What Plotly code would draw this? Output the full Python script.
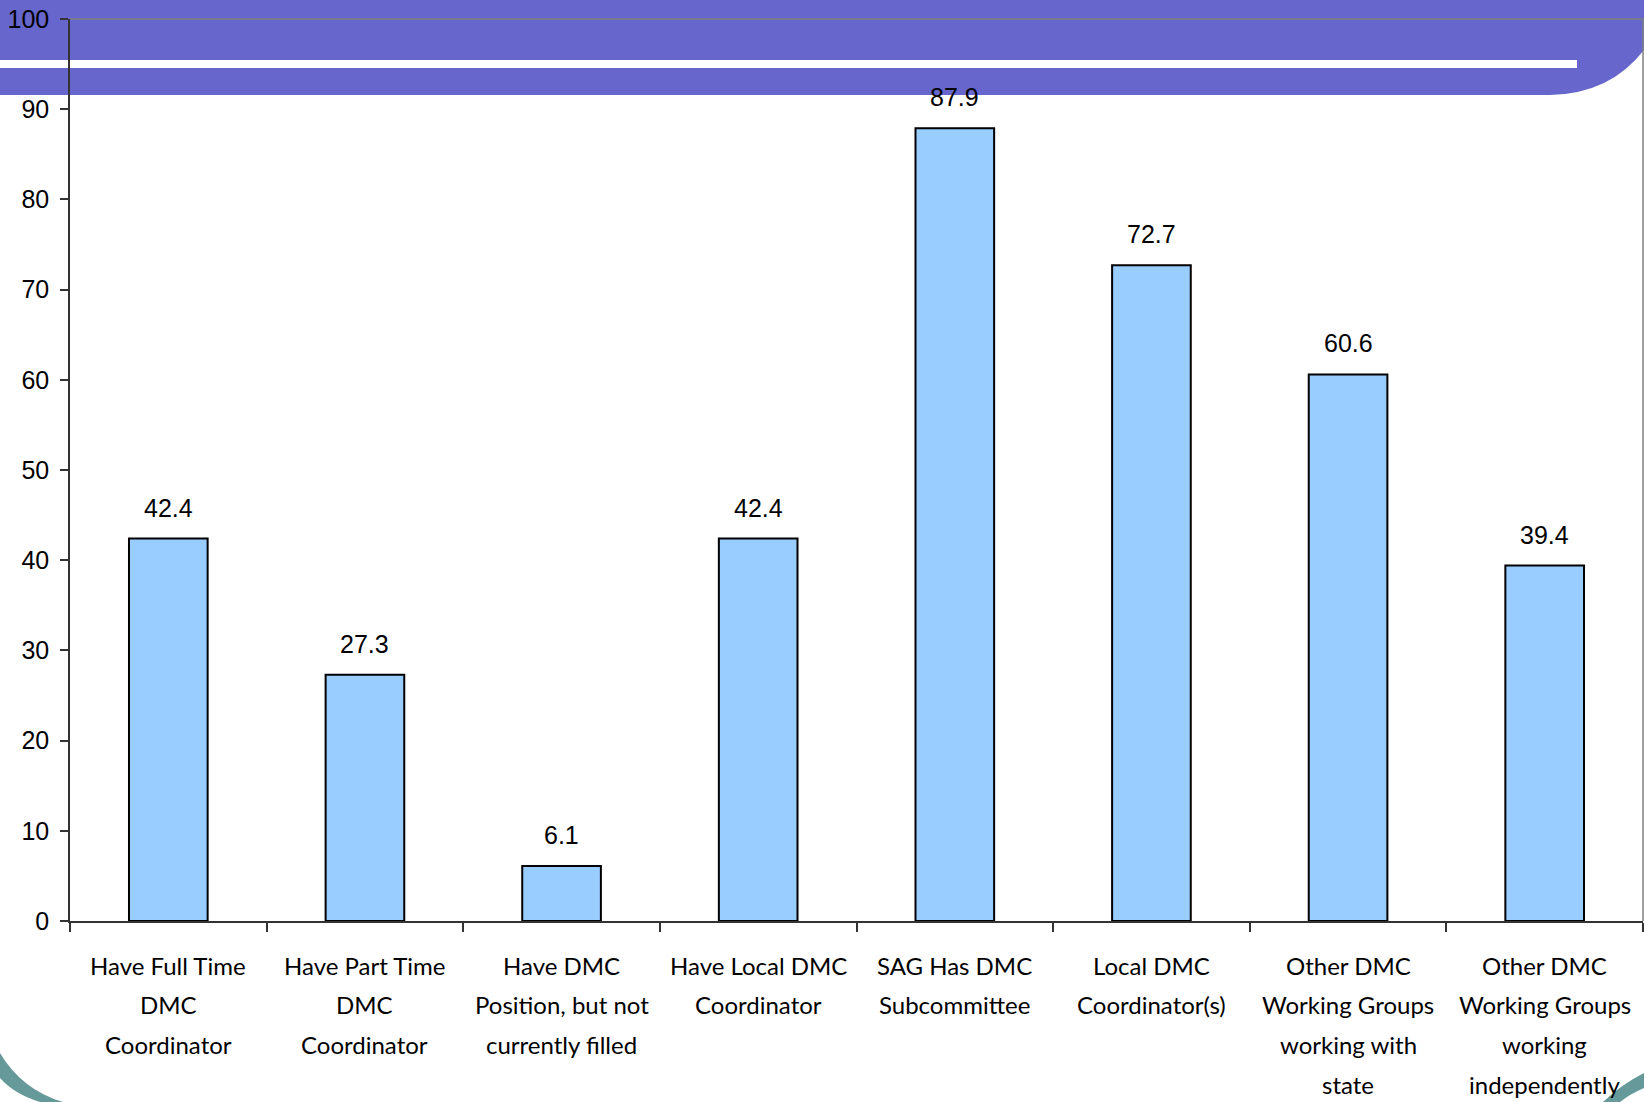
import plotly.graph_objects as go

categories = [
    "Have Full Time DMC Coordinator",
    "Have Part Time DMC Coordinator",
    "Have DMC Position, but not currently filled",
    "Have Local DMC Coordinator",
    "SAG Has DMC Subcommittee",
    "Local DMC Coordinator(s)",
    "Other DMC Working Groups working with state",
    "Other DMC Working Groups working independently",
]
label_lines = [
    ["Have Full Time", "DMC", "Coordinator"],
    ["Have Part Time", "DMC", "Coordinator"],
    ["Have DMC", "Position, but not", "currently filled"],
    ["Have Local DMC", "Coordinator"],
    ["SAG Has DMC", "Subcommittee"],
    ["Local DMC", "Coordinator(s)"],
    ["Other DMC", "Working Groups", "working with", "state"],
    ["Other DMC", "Working Groups", "working", "independently"],
]
values = [42.4, 27.3, 6.1, 42.4, 87.9, 72.7, 60.6, 39.4]
y_ticks = [0, 10, 20, 30, 40, 50, 60, 70, 80, 90, 100]

W, H = 1644, 1102
L, R, T, B = 70, 1643, 19, 921


def px(x):
    return (x - L) / (R - L)


def py(y):
    return (B - y) / (B - T)


def path(cmds):
    out = []
    for c in cmds:
        if isinstance(c, str):
            out.append(c)
        else:
            out.append(f"{px(c[0]):.5f},{py(c[1]):.5f}")
    return " ".join(out)


fig = go.Figure()
fig.add_trace(go.Bar(
    x=categories, y=values,
    marker=dict(color="#99CCFF", line=dict(color="#000000", width=2)),
    hoverinfo="x+y",
))

shapes = []
# purple header band with rounded right corner
shapes.append(dict(
    type="path", xref="paper", yref="paper", layer="below",
    path=path(["M", (0, 0), "L", (1644, 0), "L", (1644, 50),
               "Q", (1610, 94), (1550, 95), "L", (0, 95), "Z"]),
    fillcolor="#6666CC", line=dict(width=0),
))
# white stripe
shapes.append(dict(
    type="rect", xref="paper", yref="paper", layer="below",
    x0=px(0), x1=px(1577), y0=py(60), y1=py(68),
    fillcolor="#FFFFFF", line=dict(width=0),
))
# teal arcs
shapes.append(dict(
    type="path", xref="paper", yref="paper", layer="below",
    path=path(["M", (0, 1053), "Q", (22, 1090), (63, 1102), "L", (40, 1102),
               "Q", (14, 1094), (0, 1078), "Z"]),
    fillcolor="#669999", line=dict(width=0),
))
shapes.append(dict(
    type="path", xref="paper", yref="paper", layer="below",
    path=path(["M", (1603, 1102), "Q", (1622, 1084), (1644, 1073), "L", (1644, 1088),
               "Q", (1630, 1094), (1620, 1102), "Z"]),
    fillcolor="#669999", line=dict(width=0),
))
# plot area border (top and right)
shapes.append(dict(
    type="path", xref="paper", yref="paper", layer="below",
    path="M 0,1 L 1,1 L 1,0",
    line=dict(color="#808080", width=1.5),
))

annotations = []
for c, v in zip(categories, values):
    annotations.append(dict(
        x=c, y=v, xref="x", yref="y", text=f"{v:.1f}", showarrow=False,
        yanchor="middle", yshift=31,
        font=dict(family="Liberation Sans, Arial", size=25, color="#000000"),
    ))
for c, lines in zip(categories, label_lines):
    for i, t in enumerate(lines):
        annotations.append(dict(
            x=c, y=0, xref="x", yref="paper", text=t, showarrow=False,
            yanchor="middle", yshift=-(44 + 39.8 * i),
            font=dict(family="Lato", size=24, color="#000000"),
        ))

fig.update_layout(
    width=W, height=H,
    margin=dict(l=L, r=W - R, t=T, b=H - B, pad=0),
    paper_bgcolor="#FFFFFF", plot_bgcolor="rgba(0,0,0,0)",
    showlegend=False, bargap=0.6,
    shapes=shapes, annotations=annotations,
)
fig.update_xaxes(
    showticklabels=False, ticks="outside", tickson="boundaries", ticklen=9,
    tickcolor="#333333", tickwidth=1.5, showline=True, linecolor="#333333",
    linewidth=1.5, showgrid=False, zeroline=False,
)
fig.update_yaxes(
    range=[0, 100], tickvals=y_ticks, ticks="outside", ticklen=8,
    tickcolor="#333333", tickwidth=1.5, showline=True, linecolor="#333333",
    linewidth=1.5, showgrid=False, zeroline=False, ticklabelstandoff=6,
    tickfont=dict(family="Liberation Sans, Arial", size=25, color="#000000"),
)

fig.write_html(
    "out.html",
    config={"displayModeBar": False},
    post_script="document.body.style.margin='0px';document.body.style.overflow='hidden';",
)
